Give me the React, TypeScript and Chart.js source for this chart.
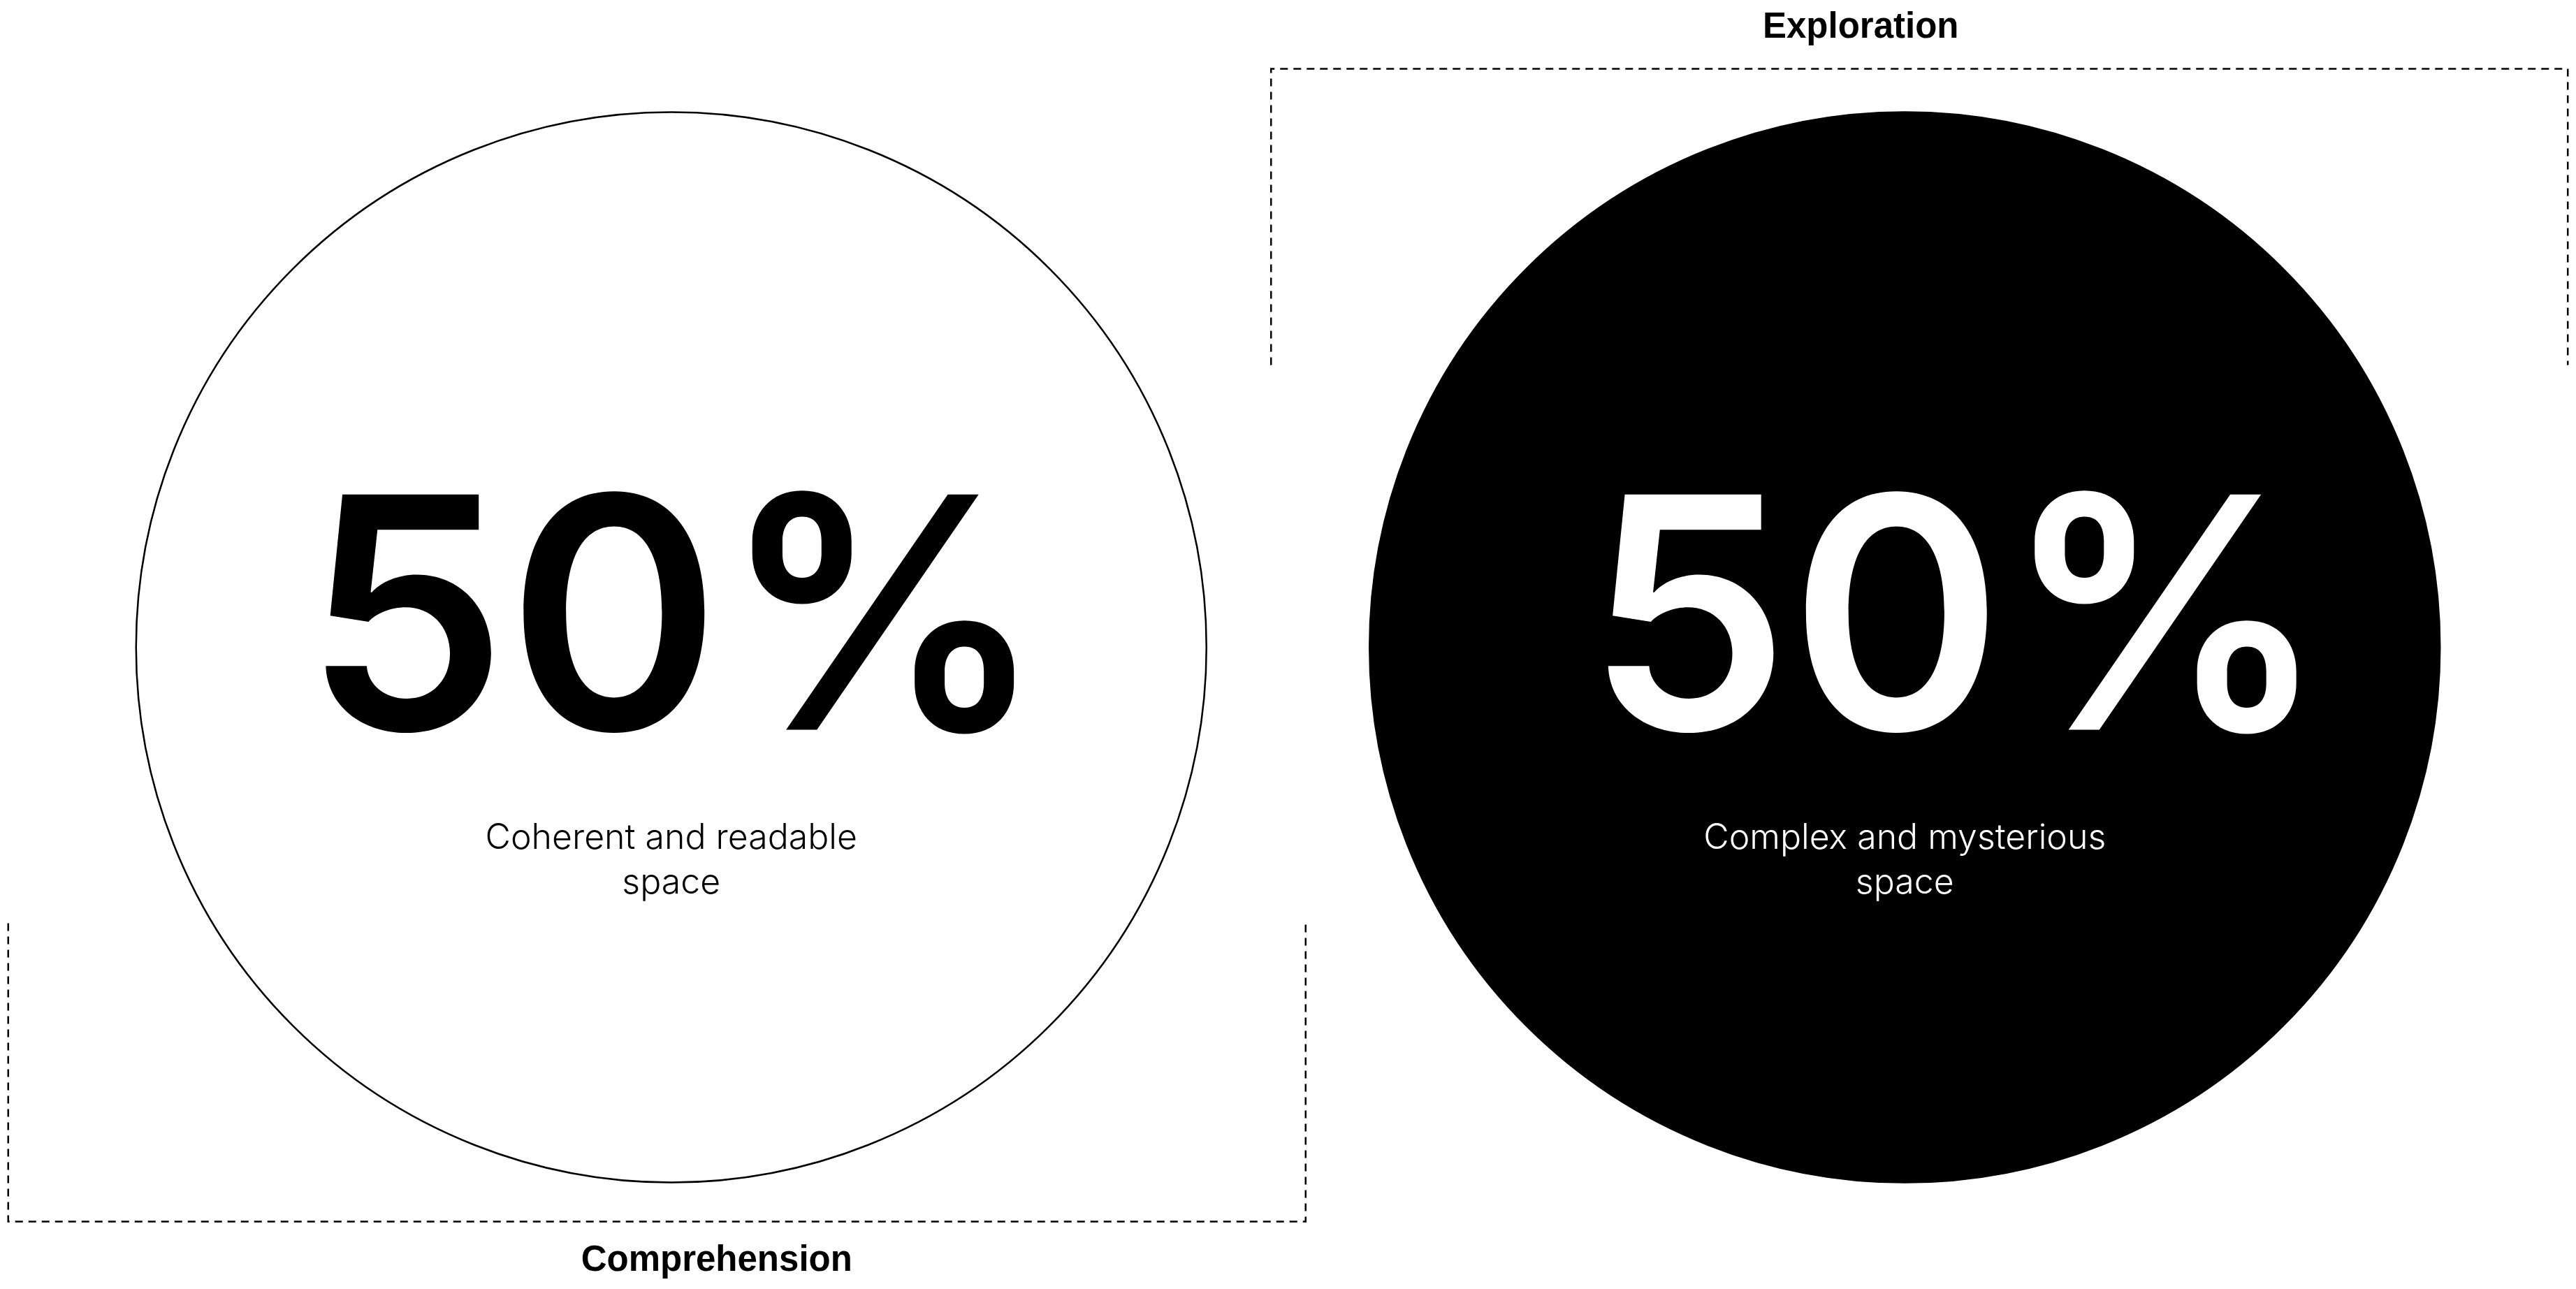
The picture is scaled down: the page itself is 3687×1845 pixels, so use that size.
import React, { useEffect, useRef } from "react";
import { Chart, registerables } from "chart.js";

Chart.register(...registerables);

// ---- data ----
const categories = ["Comprehension", "Exploration"];
const shares = [50, 50];
const captions = [
  ["Coherent and readable", "space"],
  ["Complex and mysterious", "space"],
];

// ---- styles ----
const W = 3687;
const H = 1845;
const RADIUS = 766;
const FILLS = ["#ffffff", "#000000"];
const TEXT_COLORS = ["#000000", "#ffffff"];
const VALUE_DX = [5, 75];
const BRACKET_SIDE = ["bottom", "top"];

const overlay = {
  id: "overlay",
  afterDatasetsDraw(chart: any) {
    const ctx = chart.ctx as CanvasRenderingContext2D;
    const meta = chart.getDatasetMeta(0);
    meta.data.forEach((pt: any, i: number) => {
      const x = pt.x;
      const y = pt.y;
      ctx.save();
      // big value
      ctx.fillStyle = TEXT_COLORS[i];
      ctx.font = "600 463px Inter, 'Liberation Sans', sans-serif";
      ctx.textAlign = "center";
      ctx.textBaseline = "alphabetic";
      ctx.fillText(`${shares[i]}%`, x + VALUE_DX[i], y + 118);
      // caption
      ctx.font = "300 50px Inter, Roboto, 'Liberation Sans', sans-serif";
      captions[i].forEach((line, k) => {
        ctx.fillText(line, x, y + 288 + k * 64);
      });
      ctx.restore();

      // bracket
      ctx.save();
      ctx.strokeStyle = "#000";
      ctx.lineWidth = 2.5;
      ctx.setLineDash([11, 8]);
      ctx.beginPath();
      let labelX: number, labelY: number;
      if (BRACKET_SIDE[i] === "top") {
        const l = x - 907, r = x + 949, ly = y - 828, ey = y - 404;
        ctx.moveTo(l, ey); ctx.lineTo(l, ly); ctx.lineTo(r, ly); ctx.lineTo(r, ey);
        labelX = x - 63; labelY = y - 873;
      } else {
        const l = x - 949, r = x + 908, ly = y + 822, ey = y + 395;
        ctx.moveTo(l, ey); ctx.lineTo(l, ly); ctx.lineTo(r, ly); ctx.lineTo(r, ey);
        labelX = x + 65; labelY = y + 892;
      }
      ctx.stroke();
      ctx.setLineDash([]);
      ctx.fillStyle = "#000";
      ctx.font = "bold 51px 'Liberation Sans', Arial, sans-serif";
      ctx.textAlign = "center";
      ctx.textBaseline = "alphabetic";
      ctx.fillText(categories[i], labelX, labelY);
      ctx.restore();
    });
  },
};

export default function App() {
  const ref = useRef<HTMLCanvasElement | null>(null);
  useEffect(() => {
    document.body.style.margin = "0";
    document.body.style.overflow = "hidden";
    const chart = new Chart(ref.current as HTMLCanvasElement, {
      type: "line",
      data: {
        labels: categories,
        datasets: [
          {
            data: shares,
            showLine: false,
            pointRadius: RADIUS,
            pointHoverRadius: RADIUS,
            pointBackgroundColor: FILLS,
            pointBorderColor: "#000000",
            pointBorderWidth: 2.5,
            pointHoverBorderWidth: 2.5,
            clip: false,
          } as any,
        ],
      },
      options: {
        animation: false,
        responsive: false,
        devicePixelRatio: 1,
        events: [],
        layout: { autoPadding: false, padding: { left: 78, right: 78, top: 8, bottom: 0 } },
        plugins: { legend: { display: false }, tooltip: { enabled: false }, title: { display: false } },
        scales: {
          x: { type: "category", offset: true, display: false },
          y: { min: 0, max: 100, display: false },
        },
      },
      plugins: [overlay],
    });
    return () => chart.destroy();
  }, []);
  return (
    <div style={{ width: W, height: H, background: "#fff" }}>
      <canvas ref={ref} width={W} height={H} style={{ display: "block" }} />
    </div>
  );
}
